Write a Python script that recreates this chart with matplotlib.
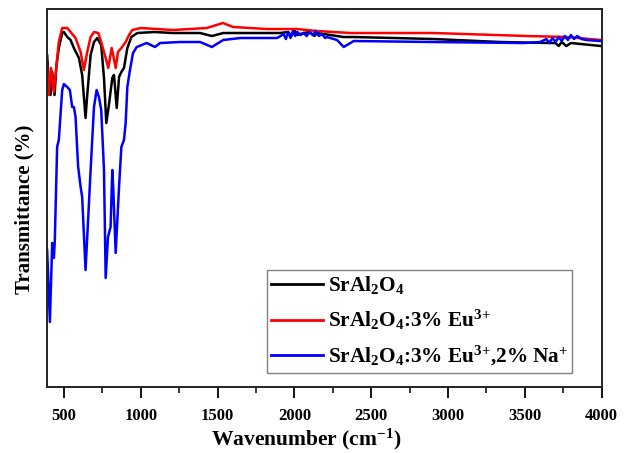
import matplotlib
matplotlib.use("Agg")
import matplotlib.pyplot as plt
from matplotlib.ticker import MultipleLocator, NullLocator

# FTIR spectra (wavenumber in cm^-1, transmittance in arbitrary units)
wn_pure = [391, 402, 413, 424, 439, 452, 467, 489, 500, 522, 544, 565, 598, 619, 641,
           652, 674, 696, 717, 743, 761, 776, 793, 815, 826, 844, 859, 874, 891, 913,
           939, 978, 1087, 1211, 1387, 1463, 1537, 1908, 1960, 1980, 2000, 2020, 2060,
           2100, 2130, 2150, 2319, 2384, 2905, 3342, 3668, 3700, 3720, 3740, 3770,
           3800, 3994]
t_pure = [332, 305, 292, 315, 292, 322, 339, 354, 355, 350, 347, 339, 329, 312, 269,
          292, 332, 345, 349, 342, 309, 264, 282, 309, 312, 279, 310, 315, 319, 339,
          350, 354, 355, 354, 354, 351, 354, 354, 355, 351, 357, 352, 354,
          355, 351, 354, 350, 350, 348, 345, 344, 344, 341, 345, 341,
          344, 341]

wn_eu = [391, 402, 417, 435, 452, 467, 489, 522, 544, 576, 609, 630, 652, 674, 696,
         724, 743, 772, 789, 811, 821, 837, 852, 874, 902, 924, 945, 1000, 1211, 1430,
         1535, 1602, 1821, 2017, 2147, 2364, 2905, 3516, 3777, 3994]
t_eu = [322, 292, 319, 295, 322, 345, 359, 359, 355, 349, 335, 317, 335, 350, 355,
        354, 345, 329, 319, 339, 332, 319, 335, 339, 345, 352, 357, 359, 357, 359,
        364, 360, 358, 358, 356, 354, 354, 351, 350, 347]

wn_eu_na = [391, 409, 424, 435, 441, 456, 467, 489, 500, 522, 539, 554, 565, 576, 587,
            593, 609, 619, 641, 652, 674, 696, 713, 728, 743, 761, 772, 787, 804, 815,
            821, 837, 859, 874, 891, 902, 913, 930, 950, 974, 1039, 1093, 1126, 1256,
            1387, 1463, 1537, 1647, 1887, 1900, 1930, 1945, 1960, 1975, 1990, 2005,
            2020, 2040, 2060, 2080, 2100, 2120, 2140, 2160, 2180, 2200, 2213, 2278,
            2321, 2386, 2905, 3492, 3600, 3640, 3660, 3680, 3700, 3720, 3740, 3760,
            3780, 3800, 3820, 3840, 3870, 3900, 3994]
t_eu_na = [137, 65, 144, 129, 147, 240, 247, 297, 303, 300, 297, 280, 280, 270, 237,
           220, 200, 190, 117, 150, 217, 280, 297, 290, 277, 217, 109, 150, 160, 217,
           200, 134, 200, 240, 247, 264, 300, 317, 334, 340, 344, 340, 344, 345,
           345, 340, 347, 349, 349, 350, 353, 348, 355, 349, 356, 351,
           355, 352, 354, 351, 355, 352, 356, 351, 353, 349, 350, 347,
           340, 346, 345, 344, 345, 348, 344, 349, 345, 350, 346, 351,
           347, 352, 348, 351, 348, 347, 346]

labels = [r"SrAl$_2$O$_4$",
          r"SrAl$_2$O$_4$:3% Eu$^{3{+}}$",
          r"SrAl$_2$O$_4$:3% Eu$^{3{+}}$,2% Na$^{{+}}$"]
colors = ["#000000", "#ff0000", "#0000ff"]

plt.rcParams["font.family"] = ["Liberation Serif", "DejaVu Serif"]
plt.rcParams["font.weight"] = "bold"
plt.rcParams["mathtext.default"] = "regular"

fig = plt.figure(figsize=(6.34, 4.53), dpi=100)
ax = fig.add_axes([0.0741, 0.1457, 0.8749, 0.8344])

for wn, t, c, lab in zip([wn_pure, wn_eu, wn_eu_na], [t_pure, t_eu, t_eu_na], colors, labels):
    ax.plot(wn, t, color=c, lw=1.8, label=lab)

ax.set_xlim(390, 4000)
ax.set_ylim(0, 378)
ax.xaxis.set_major_locator(MultipleLocator(500))
ax.xaxis.set_minor_locator(MultipleLocator(250))
ax.yaxis.set_major_locator(NullLocator())
ax.tick_params(axis="x", which="major", direction="out", length=8, width=1.3,
               labelsize=12, pad=7)
ax.tick_params(axis="x", which="minor", direction="out", length=4.5, width=1.1)
for lab in ax.get_xticklabels():
    lab.set_fontweight("bold")
for sp in ax.spines.values():
    sp.set_linewidth(1.4)
    sp.set_color("#222222")

ax.set_xlabel(r"Wavenumber (cm$^{-1}$)", fontsize=15.5, fontweight="bold")
ax.set_ylabel("Transmittance (%)", fontsize=15, fontweight="bold")
ax.xaxis.set_label_coords(0.468, -0.105)
ax.yaxis.set_label_coords(-0.022, 0.47)

leg = ax.legend(loc="lower left", bbox_to_anchor=(0.3966, 0.038), borderaxespad=0,
                prop={"family": "Liberation Serif", "weight": "bold", "size": 15.3},
                fancybox=False, framealpha=1, edgecolor="#808080",
                handlelength=2.45, handletextpad=0.2, labelspacing=0.56,
                borderpad=0.2)
leg.get_frame().set_linewidth(1.0)
for h in leg.get_lines():
    h.set_linewidth(2.0)

fig.savefig("out.png", dpi=100)
